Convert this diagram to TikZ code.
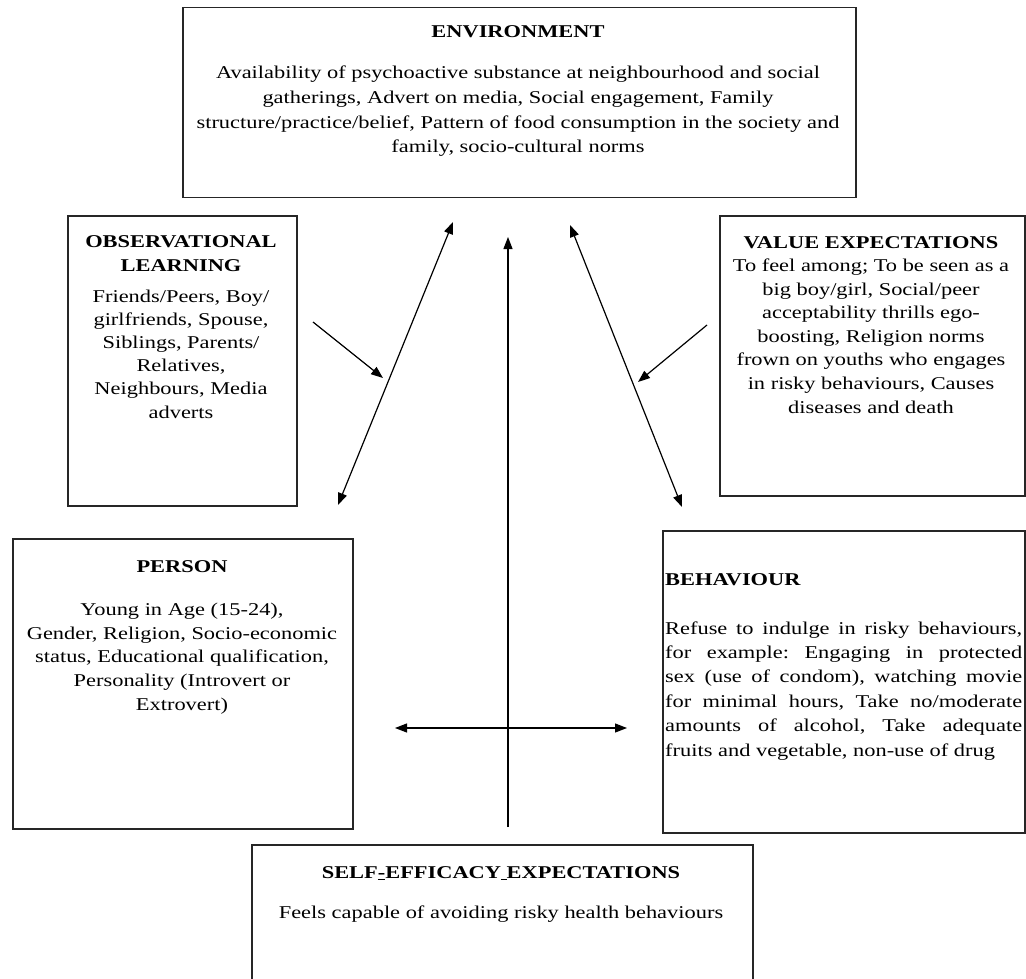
\documentclass[tikz,border=0pt]{standalone}
\usepackage{fontspec}
\setmainfont{Liberation Serif}[FakeStretch=1.245]
\usetikzlibrary{arrows.meta}
\frenchspacing
\tikzset{
 box/.style={draw=black!85, line width=1.5pt, inner sep=0pt, anchor=north west},
 ttl/.style={font=\fontsize{18}{24}\selectfont\bfseries, align=center, anchor=base, inner sep=0pt},
 body/.style={font=\fontsize{18}{#1}\selectfont, align=center, anchor=base, inner sep=0pt},
 arr/.style={line width=1.2pt, -{Triangle[length=12pt,width=9pt]}},
 darr/.style={line width=1.2pt, {Triangle[length=12pt,width=9pt]}-{Triangle[length=12pt,width=9pt]}},
}
\begin{document}
\begin{tikzpicture}[x=1pt,y=-1pt]
\useasboundingbox (0,0) rectangle (1026,979);
% boxes
\node[box, minimum width=673pt, minimum height=190pt] (env) at (182,7) {};
\node[box, minimum width=229pt, minimum height=290pt] (obs) at (67,215) {};
\node[box, minimum width=305pt, minimum height=280pt] (val) at (719,215) {};
\node[box, minimum width=340pt, minimum height=290pt] (per) at (12,538) {};
\node[box, minimum width=362pt, minimum height=302pt] (beh) at (662,530) {};
\node[box, minimum width=501pt, minimum height=150pt] (self) at (251,844) {};
% texts (base = baseline of the last line)
\node[ttl] (envT) at (518,38) {ENVIRONMENT};
\node[body=24.7pt] (envB) at (518,153) {Availability of psychoactive substance at neighbourhood and social\\gatherings, Advert on media, Social engagement, Family\\structure/practice/belief, Pattern of food consumption in the society and\\family, socio-cultural norms};
\node[ttl] (obsT) at (181,271) {OBSERVATIONAL\\LEARNING};
\node[body=23.2pt] (obsB) at (181,418) {Friends/Peers, Boy/\\girlfriends, Spouse,\\Siblings, Parents/\\Relatives,\\Neighbours, Media\\adverts};
\node[ttl] (valT) at (871,248) {VALUE EXPECTATIONS};
\node[body=23.6pt] (valB) at (871,413) {To feel among; To be seen as a\\big boy/girl, Social/peer\\acceptability thrills ego-\\boosting, Religion norms\\frown on youths who engages\\in risky behaviours, Causes\\diseases and death};
\node[ttl] (perT) at (182,572) {PERSON};
\node[body=23.6pt] (perB) at (182,710) {Young in Age (15-24),\\Gender, Religion, Socio-economic\\status, Educational qualification,\\Personality (Introvert or\\Extrovert)};
\node[ttl, anchor=base west] (behT) at (665,585) {BEHAVIOUR};
\node[font=\fontsize{18}{24.4pt}\selectfont, text width=357pt, align=justify, anchor=base west, inner sep=0pt] (behB) at (665,634) {Refuse to indulge in risky behaviours,\linebreak for example: Engaging in protected\linebreak sex (use of condom), watching movie\linebreak for minimal hours, Take no/moderate\linebreak amounts of alcohol, Take adequate\linebreak fruits and vegetable, non-use of drug};
\node[ttl] (selfT) at (501,878) {SELF\underline{-}EFFICACY\underline{\ }EXPECTATIONS};
\node[body=24pt] (selfB) at (501,918) {Feels capable of avoiding risky health behaviours};
% connectors
\coordinate (a1) at (453,222); \coordinate (a2) at (338,505);
\coordinate (b1) at (570,225); \coordinate (b2) at (682,507);
\coordinate (c1) at (508,827); \coordinate (c2) at (508,237);
\coordinate (d1) at (395,728); \coordinate (d2) at (627,728);
\coordinate (e1) at (313,322); \coordinate (e2) at (383,378);
\coordinate (f1) at (707,325); \coordinate (f2) at (638,382);
\draw[darr] (a2) -- (a1);
\draw[darr] (b1) -- (b2);
\draw[arr] (c1) -- (c2);
\draw[darr] (d1) -- (d2);
\draw[arr] (e1) -- (e2);
\draw[arr] (f1) -- (f2);
\end{tikzpicture}
\end{document}
